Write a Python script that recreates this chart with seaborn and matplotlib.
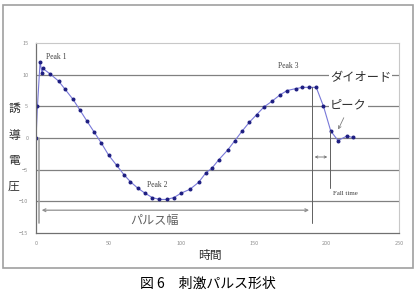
import numpy as np
import pandas as pd
import seaborn as sns
import matplotlib.pyplot as plt
from matplotlib.patches import Rectangle

sns.set_style("white")
plt.rcParams['font.family'] = ['Noto Sans CJK JP', 'DejaVu Sans']

# pulse waveform
time = [0, 1, 2.8, 4.2, 4.6, 9.8, 15.5, 20, 25.5, 30, 35, 40, 45, 50, 55.5, 60.6,
        65, 70, 75, 80, 85, 90, 95, 100, 106, 112, 117, 121, 126, 132, 137,
        142, 147, 152, 157, 162.5, 168, 173, 179, 183.5, 188, 193, 198, 203,
        208, 214, 218]
voltage = [0, 5, 12, 10.2, 11, 10.1, 9.0, 7.7, 6.1, 4.5, 2.7, 0.95, -0.8, -2.7,
           -4.3, -5.8, -6.9, -7.9, -8.7, -9.4, -9.7, -9.7, -9.4, -8.7, -8.1,
           -7.0, -5.5, -4.8, -3.4, -1.9, -0.4, 1.1, 2.5, 3.7, 4.9, 5.8, 6.8,
           7.5, 7.8, 8.0, 8.0, 8.0, 5.0, 1.1, -0.4, 0.3, 0.1]
x_ticks = [0, 50, 100, 150, 200, 250]
y_ticks = [-15, -10, -5, 0, 5, 10, 15]

df = pd.DataFrame({'time': time, 'voltage': voltage})

fig = plt.figure(figsize=(4.17, 2.95), dpi=100)
fig.patches.append(Rectangle((3 / 417, 1 - 268 / 295), 410 / 417, 263 / 295,
                             transform=fig.transFigure, fill=False,
                             edgecolor='#a0a0a0', lw=1.2))
ax = fig.add_axes([36 / 417, 1 - 233 / 295, 363 / 417, 190 / 295])

for y in [-10, -5, 0, 5, 10]:
    ax.axhline(y, color='#808080', lw=0.9, zorder=0)

sns.lineplot(data=df, x='time', y='voltage', ax=ax, color='#7878d8', lw=0.8,
             marker='o', markersize=2.1, markerfacecolor='#1c1c80',
             markeredgecolor='#1c1c80', sort=False)

ax.set_xlim(0, 250)
ax.set_ylim(-15, 15)
ax.set_xticks(x_ticks)
ax.set_yticks(y_ticks)
ax.tick_params(labelsize=4, colors='#909090', length=2, width=0.6)
ax.set_xlabel('')
ax.set_ylabel('')
for s in ['top', 'right']:
    ax.spines[s].set_color('#c8c8c8')
    ax.spines[s].set_linewidth(0.8)
for s in ['left', 'bottom']:
    ax.spines[s].set_color('#707070')
    ax.spines[s].set_linewidth(0.9)

# annotation lines
ln = dict(color='#606060', lw=0.7)
ax.plot([2, 2], [0, -13.4], color='#a0a0a0', lw=1.2)
ax.plot([190, 190], [8, -13.4], **ln)
ax.plot([202.5, 202.5], [1.1, -7.9], **ln)
ax.annotate('', xy=(2, -11.4), xytext=(190, -11.4),
            arrowprops=dict(arrowstyle='<->', color='#909090', lw=0.9,
                            mutation_scale=5))
ax.annotate('', xy=(190, -3.0), xytext=(202.5, -3.0),
            arrowprops=dict(arrowstyle='<->', color='#707070', lw=0.6,
                            mutation_scale=4))
ax.annotate('', xy=(207.3, 0.95), xytext=(212.8, 3.6),
            arrowprops=dict(arrowstyle='->', color='#808080', lw=0.6,
                            mutation_scale=5))

serif = ['Liberation Serif', 'DejaVu Serif']
ax.text(6.9, 12.8, 'Peak 1', family=serif, fontsize=5.5, color='#404040', va='center')
ax.text(76.4, -7.4, 'Peak 2', family=serif, fontsize=5.5, color='#404040', va='center')
ax.text(166.7, 11.4, 'Peak 3', family=serif, fontsize=5.5, color='#404040', va='center')
ax.text(204.5, -8.8, 'Fall time', family=serif, fontsize=5, color='#404040', va='center',
        bbox=dict(facecolor='white', edgecolor='none', pad=0.5))
ax.text(64.7, -13.0, 'パルス幅', fontsize=8.7, color='#606060', va='center')
ax.text(202.5, 9.5, 'ダイオード', fontsize=8.8, color='#303030', va='center',
        bbox=dict(facecolor='white', edgecolor='none', pad=0.5))
ax.text(202.5, 5.2, 'ピーク', fontsize=8.8, color='#303030', va='center',
        bbox=dict(facecolor='white', edgecolor='none', pad=0.5))

for ch, yy in zip('誘導電圧', [108, 135, 161, 186]):
    fig.text(14 / 417, 1 - yy / 295, ch, fontsize=8.5, ha='center', va='center',
             color='#303030')
fig.text(210 / 417, 1 - 255 / 295, '時間', fontsize=8.5, ha='center', va='center',
         color='#303030')
fig.text(208 / 417, 1 - 284 / 295, '図 6　刺激パルス形状', fontsize=10,
         ha='center', va='center', color='black')

fig.savefig('out.png', dpi=100)
